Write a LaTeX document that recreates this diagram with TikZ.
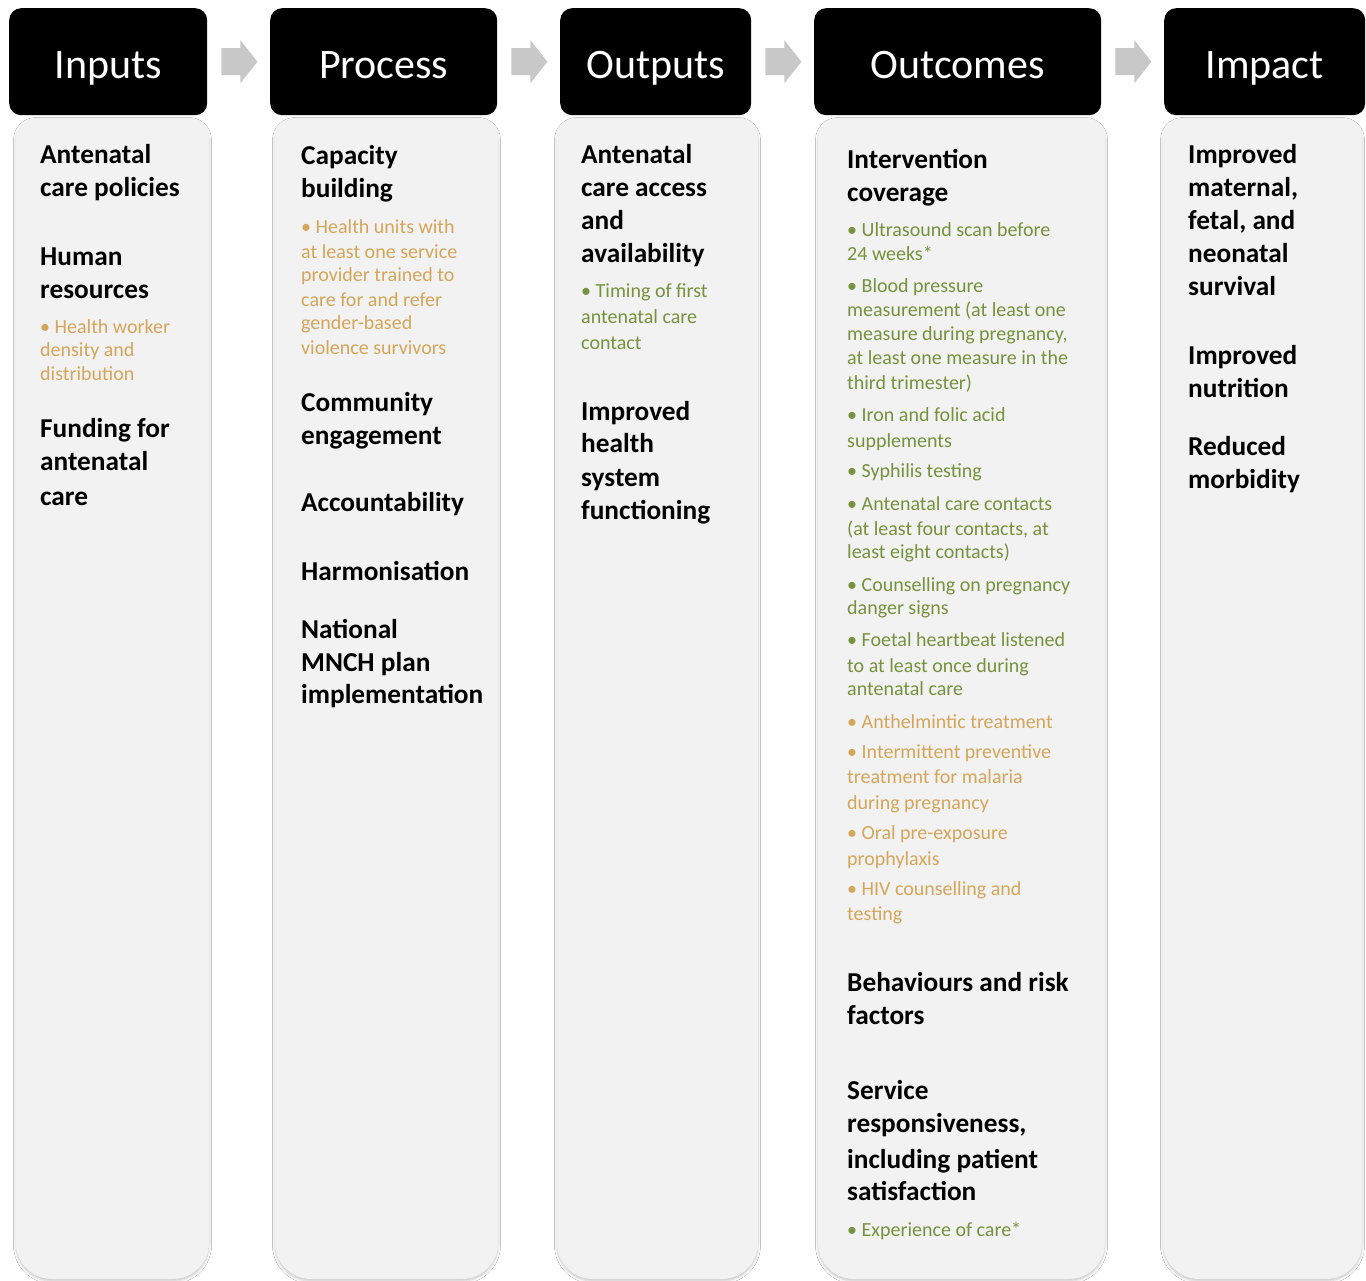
\documentclass[tikz,border=0pt]{standalone}
\usepackage{fontspec}
\setmainfont{Carlito}
\usetikzlibrary{calc,shadows.blur}
\definecolor{colfill}{HTML}{F2F2F2}
\definecolor{goldc}{HTML}{D4A65A}
\definecolor{olivec}{HTML}{76923C}
\definecolor{arrowgray}{HTML}{C8C8C8}
\newcounter{lno}
\newcommand\tl[4]{\stepcounter{lno}\node[#1] (t\arabic{lno}) at (#2,-#3-2) {#4};}
\newcommand\colbox[2]{%
  \path[colpath] (#1,-138) arc[start angle=180,end angle=90,radius=20pt]
    -- (#2-20,-118) arc[start angle=90,end angle=0,radius=20pt]
    -- (#2,-1243) arc[start angle=0,end angle=-90,radius=36pt]
    -- (#1+36,-1279) arc[start angle=270,end angle=180,radius=36pt] -- cycle;}
\begin{document}
\begin{tikzpicture}[x=1pt,y=1pt,
  colpath/.style={fill=colfill, blur shadow={shadow xshift=0pt, shadow yshift=-2pt, shadow blur radius=2.5pt, shadow opacity=22}},
  hdrbox/.style={fill=black, rounded corners=12pt, draw=none, inner sep=0pt, anchor=north west},
  hdrtext/.style={text=white, font=\fontsize{42}{50}\selectfont, inner sep=0pt, anchor=base},
  headtxt/.style={anchor=base west, inner sep=0pt, font=\bfseries\fontsize{27.3}{33}\selectfont},
  goldtxt/.style={anchor=base west, inner sep=0pt, text=goldc, font=\fontsize{20}{24}\selectfont},
  greentxt/.style={anchor=base west, inner sep=0pt, text=olivec, font=\fontsize{20}{24}\selectfont},
  blockarrow/.style={fill=arrowgray, draw=none}]
\useasboundingbox (0,0) rectangle (1366,-1281);
\fill[white] (0,0) rectangle (1366,-1281);

% columns
\colbox{16}{209}
\colbox{275}{498}
\colbox{557}{758}
\colbox{818}{1105}
\colbox{1163}{1362}

% headers
\node[hdrbox, minimum width=198pt, minimum height=107pt] (h1) at (9,-8) {};
\node[hdrbox, minimum width=227pt, minimum height=107pt] (h2) at (270,-8) {};
\node[hdrbox, minimum width=191pt, minimum height=107pt] (h3) at (560,-8) {};
\node[hdrbox, minimum width=287pt, minimum height=107pt] (h4) at (814,-8) {};
\node[hdrbox, minimum width=201pt, minimum height=107pt] (h5) at (1164,-8) {};
\node[hdrtext] (ht1) at (h1.center |- 0,-79) {Inputs};
\node[hdrtext] (ht2) at (h2.center |- 0,-79) {Process};
\node[hdrtext] (ht3) at (h3.center |- 0,-79) {Outputs};
\node[hdrtext] (ht4) at (h4.center |- 0,-79) {Outcomes};
\node[hdrtext] (ht5) at (h5.center |- 0,-79) {Impact};

% block arrows
\foreach \a/\b in {h1/h2,h2/h3,h3/h4,h4/h5}{
  \fill[blockarrow] ($(\a.east)+(14,13.5)$) -- ++(19,0) -- ++(0,8) -- ++(17,-21.5)
     -- ++(-17,-21.5) -- ++(0,8) -- ++(-19,0) -- cycle;
}

% Inputs
\tl{headtxt}{40}{162}{Antenatal}
\tl{headtxt}{40}{195}{care policies}
\tl{headtxt}{40}{264}{Human}
\tl{headtxt}{40}{297}{resources}
\tl{goldtxt}{40}{332}{• Health worker}
\tl{goldtxt}{40}{355}{density and}
\tl{goldtxt}{40}{379}{distribution}
\tl{headtxt}{40}{435}{Funding for}
\tl{headtxt}{40}{468}{antenatal}
\tl{headtxt}{40}{503}{care}

% Process
\tl{headtxt}{301}{163}{Capacity}
\tl{headtxt}{301}{196}{building}
\tl{goldtxt}{301}{232}{• Health units with}
\tl{goldtxt}{301}{257}{at least one service}
\tl{goldtxt}{301}{280}{provider trained to}
\tl{goldtxt}{301}{305}{care for and refer}
\tl{goldtxt}{301}{328}{gender-based}
\tl{goldtxt}{301}{353}{violence survivors}
\tl{headtxt}{301}{409}{Community}
\tl{headtxt}{301}{442}{engagement}
\tl{headtxt}{301}{509}{Accountability}
\tl{headtxt}{301}{578}{Harmonisation}
\tl{headtxt}{301}{636}{National}
\tl{headtxt}{301}{669}{MNCH plan}
\tl{headtxt}{301}{701}{implementation}

% Outputs
\tl{headtxt}{581}{162}{Antenatal}
\tl{headtxt}{581}{195}{care access}
\tl{headtxt}{581}{228}{and}
\tl{headtxt}{581}{261}{availability}
\tl{greentxt}{581}{296}{• Timing of first}
\tl{greentxt}{581}{322}{antenatal care}
\tl{greentxt}{581}{347}{contact}
\tl{headtxt}{581}{418}{Improved}
\tl{headtxt}{581}{450}{health}
\tl{headtxt}{581}{484}{system}
\tl{headtxt}{581}{517}{functioning}

% Outcomes
\tl{headtxt}{847}{167}{Intervention}
\tl{headtxt}{847}{200}{coverage}
\tl{greentxt}{847}{235}{• Ultrasound scan before}
\tl{greentxt}{847}{259}{24 weeks*}
\tl{greentxt}{847}{291}{• Blood pressure}
\tl{greentxt}{847}{315}{measurement (at least one}
\tl{greentxt}{847}{339}{measure during pregnancy,}
\tl{greentxt}{847}{363}{at least one measure in the}
\tl{greentxt}{847}{387}{third trimester)}
\tl{greentxt}{847}{419}{• Iron and folic acid}
\tl{greentxt}{847}{445}{supplements}
\tl{greentxt}{847}{475}{• Syphilis testing}
\tl{greentxt}{847}{508}{• Antenatal care contacts}
\tl{greentxt}{847}{533}{(at least four contacts, at}
\tl{greentxt}{847}{556}{least eight contacts)}
\tl{greentxt}{847}{589}{• Counselling on pregnancy}
\tl{greentxt}{847}{612}{danger signs}
\tl{greentxt}{847}{644}{• Foetal heartbeat listened}
\tl{greentxt}{847}{670}{to at least once during}
\tl{greentxt}{847}{693}{antenatal care}
\tl{goldtxt}{847}{726}{• Anthelmintic treatment}
\tl{goldtxt}{847}{756}{• Intermittent preventive}
\tl{goldtxt}{847}{781}{treatment for malaria}
\tl{goldtxt}{847}{807}{during pregnancy}
\tl{goldtxt}{847}{837}{• Oral pre-exposure}
\tl{goldtxt}{847}{863}{prophylaxis}
\tl{goldtxt}{847}{893}{• HIV counselling and}
\tl{goldtxt}{847}{918}{testing}
\tl{headtxt}{847}{989}{Behaviours and risk}
\tl{headtxt}{847}{1022}{factors}
\tl{headtxt}{847}{1097}{Service}
\tl{headtxt}{847}{1130}{responsiveness,}
\tl{headtxt}{847}{1166}{including patient}
\tl{headtxt}{847}{1198}{satisfaction}
\tl{greentxt}{847}{1234}{• Experience of care*}

% Impact
\tl{headtxt}{1188}{162}{Improved}
\tl{headtxt}{1188}{195}{maternal,}
\tl{headtxt}{1188}{228}{fetal, and}
\tl{headtxt}{1188}{261}{neonatal}
\tl{headtxt}{1188}{294}{survival}
\tl{headtxt}{1188}{362}{Improved}
\tl{headtxt}{1188}{395}{nutrition}
\tl{headtxt}{1188}{453}{Reduced}
\tl{headtxt}{1188}{486}{morbidity}
\end{tikzpicture}
\end{document}
